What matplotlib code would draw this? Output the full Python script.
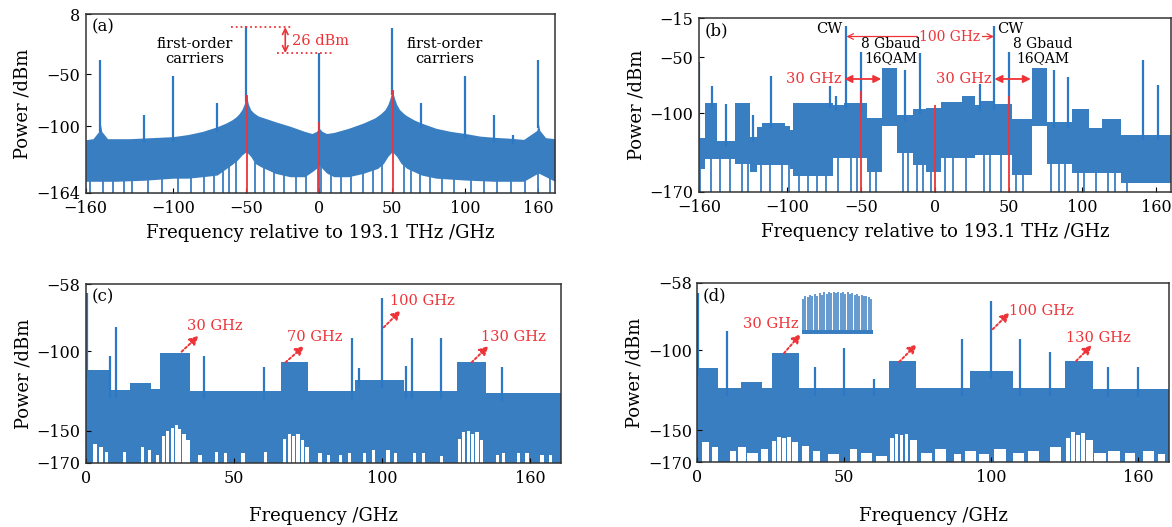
import numpy as np
import matplotlib.pyplot as plt

plt.rcParams['font.family'] = ['DejaVu Serif']

BLUE = '#3a7ec2'
SPIKE = '#2b79c5'
RED = '#ee3338'

# ---------------- panel (a): optical spectrum, carriers ----------------
a_up_f = [-160, -155, -151, -150, -149, -145, -130, -115, -100, -90, -80, -70, -64, -60, -57, -55, -53,
          -51.5, -50, -48.5, -47, -45, -42, -40, -30, -20, -10, -5, -2, 0, 2, 5, 10, 20, 30, 38, 42,
          45, 47, 48.5, 50, 51.5, 53, 55, 58, 60, 65, 70, 80, 90, 100, 110, 120, 130, 140, 149, 150,
          151, 155, 161.4]
a_up_p = [-113, -112, -105, -97, -105, -112, -112, -111, -110, -108, -105, -100.5, -97, -94, -91, -88,
          -84, -79, -70, -79, -84, -87, -90, -91, -95.7, -100, -105, -107, -105, -102, -105, -107,
          -106, -102, -97, -92, -88, -84, -79, -73, -65, -73, -79, -84, -88, -90, -94, -97, -102,
          -105, -107, -109.5, -110.7, -111.5, -112.7, -104, -97, -104, -111, -112]
a_low_f = [-160, -140, -120, -100, -90, -80, -70, -65, -60, -56, -53, -50, -47, -44, -40, -30, -20,
           -10, -5, -2, 0, 2, 5, 10, 20, 30, 40, 44, 47, 50, 53, 56, 60, 70, 80, 100, 120, 140, 150, 161.4]
a_low_p = [-153, -153, -152, -150, -150, -148.6, -147, -142, -137, -132.5, -127.7, -124.5, -129, -135.8,
           -139, -145.4, -148.6, -148.6, -143.8, -140.6, -137.4, -140.6, -145, -148.6, -148.6, -145.4,
           -140.6, -135.8, -129, -124.5, -129, -135.8, -140.6, -147, -150, -151.8, -153, -153, -145, -153]
a_dip_f = [-157, -148, -141, -134, -128, -117, -108, -97, -88, -79, -72, -66, -62, -57, -44, -38, -31,
           -24, -16, -9, -1, 1, 8, 15, 22, 30, 37, 43, 58, 63, 69, 76, 84, 92, 104, 113, 122, 131,
           141, 150, 158]
a_sp_f = [-150.5, -120, -100.5, -70, -50.3, 0, 50, 70, 100, 120, 133, 150]
a_sp_p = [-36, -89, -52, -78, -4, -30, -5.5, -78, -52, -89, -108, -36]
a_red_f = [-49.5, 0, 50.3]
a_red_p = [-70, -95.6, -65]

# ---------------- panel (b): optical spectrum with signals ----------------
b_edges = [-160, -156, -148, -135.7, -125.4, -121, -117, -102, -98, -96, -69, -62, -46, -36, -25.5,
           -15, -6, 4, 18, 27, 31, 40, 52, 65.6, 76, 93, 104.3, 113.4, 126, 160]
b_up = [-122, -91, -125, -91, -121, -112, -108.5, -111, -115, -90.5, -93, -91, -104.6, -60, -101.5,
        -96, -95, -90, -85, -93, -89, -91.7, -105, -59.3, -108, -96.4, -112.8, -105, -119]
b_low = [-150, -141, -141, -145, -152, -146, -146, -146, -150, -156, -140, -140, -152, -111, -135,
         -146, -152, -140, -140, -137, -137, -137, -155, -111, -145, -153, -153, -153, -162]
b_dip_f = [-159, -152, -146, -139, -131, -127, -118, -112, -104, -99, -92, -86, -80, -74, -66, -57,
           -53, -44, -40, -22, -18, -12, -8, -3, 7, 12, 21, 33, 37, 45, 55, 60, 79, 84, 88, 97, 101,
           109, 117, 122, 130]
b_sp_f = [-159.7, -151.5, -141.8, -123.2, -111, -71, -67.3, -60.2, -50.1, -20.3, -10.3, 30.4, 40.2,
          50.5, 80.9, 90.2, 141.1, 151.1]
b_sp_p = [-54, -75.4, -91.8, -101.6, -67, -76.1, -85, -21.8, -45.1, -61.4, -46.6, -73.6, -21.8,
          -45.1, -61.3, -67.3, -52.6, -75]
b_red_f = [-50, 0, 50]
b_red_p = [-80.2, -93, -84.6]

# ---------------- panel (c): electrical spectrum ----------------
c_edges = [0, 8, 15, 22, 25, 35, 66, 75, 91, 107.5, 125.5, 135, 160.4]
c_up = [-112, -124.5, -120, -124, -101, -125, -107, -125, -118, -125, -107, -126]
c_gap_l = [2.5, 4.5, 6.3, 12.5, 18.5, 21.0, 23.5, 25.6, 27.1, 28.6, 29.9, 31.1, 32.6, 33.9, 38, 43.5,
           46.5, 52.5, 60, 66.6, 68.1, 69.6, 71.1, 72.6, 74.1, 78.5, 81.5, 85.5, 88.5, 93.5, 96.5, 101.5,
           104, 110.5, 113.5, 119.5, 125.6, 127.1, 128.6, 130.1, 131.6, 133.1, 138.5, 140.5, 145.5,
           148.5, 153.5, 156.5]
c_gap_top = [-158, -160, -163, -163, -160, -162, -165, -153, -150, -148, -146.5, -149, -152, -156,
             -165, -163, -164, -164, -163, -155, -152, -153, -152, -156, -160, -164, -165, -165, -164,
             -164, -162, -162, -164, -164, -164, -166, -155, -151, -150, -152, -151, -156, -165, -164,
             -164, -164, -165, -165]
c_sp_f = [0.3, 8, 10, 40, 60, 90, 92.2, 100, 108, 110, 120, 140.4]
c_sp_p = [-63.5, -103, -85, -103, -110, -91.8, -110.8, -66.7, -109, -91.8, -91.8, -110]

# ---------------- panel (d): electrical spectrum, optimised ----------------
d_edges = [0, 7, 15, 22, 25.3, 34.6, 65.3, 74.5, 93, 107.6, 125.3, 134.7, 160.6]
d_up = [-111.5, -123.4, -120, -123.4, -102, -123.4, -107, -123.4, -113, -123.4, -106.8, -124]
d_gap_l = [1.5, 5, 11, 14, 17, 21.7, 25.5, 27.2, 28.9, 30.6, 32.3, 35.6, 39.4, 44.4, 52, 55.8, 60.9,
           65.6, 67.3, 69.0, 70.7, 72.4, 76, 81, 87.4, 91, 96, 101, 107.6, 112.6, 120, 125.6, 127.3,
           129.0, 130.7, 132.4, 135, 140, 145.5, 151.8, 156.8]
d_gap_r = [4, 7, 13, 16.7, 20.5, 24, 26.7, 28.4, 30.1, 31.8, 34.3, 38, 41.9, 48.2, 54.5, 59.6, 64.6,
           66.8, 68.5, 70.2, 71.9, 74.7, 79.8, 84.6, 89.9, 95, 99.4, 105, 111.4, 116.4, 124, 126.8,
           128.5, 130.2, 131.9, 134.7, 139, 144, 149, 155.6, 159.3]
d_gap_top = [-157.6, -160.7, -162.8, -160.7, -164, -161.7, -157, -154.5, -155, -154, -157.6, -159.6,
             -162.8, -164.8, -161.7, -164, -166, -155, -152.4, -153, -152.5, -156, -164, -161.7, -165,
             -162.8, -165, -161.7, -164, -162.8, -160.7, -155, -151.4, -153, -151.5, -156, -164,
             -162.8, -164, -162.8, -165]
d_sp_f = [0.3, 10, 40, 50, 60, 90, 100, 110, 120, 140, 150]
d_sp_p = [-64.2, -88, -110.5, -99, -117.8, -93.3, -69.4, -93.3, -101, -110.5, -110.5]
# inset comb (zoom of the 30 GHz signal)
d_comb_f = [36.0, 36.8, 37.6, 38.4, 39.2, 40.0, 40.8, 41.6, 42.4, 43.2, 44.0, 44.8, 45.6, 46.4, 47.2,
            48.0, 48.8, 49.6, 50.4, 51.2, 52.0, 52.8, 53.6, 54.4, 55.2, 56.0, 56.8, 57.6, 58.4, 59.2]
d_comb_p = [-68, -66, -67, -65.5, -66.5, -65, -66, -64.5, -65.5, -64, -65, -64, -64.5, -63.8, -64.5,
            -63.8, -64.5, -64, -65, -64, -65, -64.5, -65.5, -65, -66, -65.5, -66.5, -66, -67, -68]
d_comb_base = -90.2

TXT = 10.5


def seg_level(edges, levels, f):
    i = np.clip(np.searchsorted(edges, f, side='right') - 1, 0, len(levels) - 1)
    return np.asarray(levels)[i]


def step_xy(edges, levels):
    x = np.repeat(edges, 2)[1:-1]
    y = np.repeat(levels, 2)
    return x, y


def style(ax, xlim, ylim, xt, xtl, yt, xlab, xpad):
    ax.set_xlim(xlim)
    ax.set_ylim(ylim)
    ax.set_xticks(xt, xtl)
    ax.set_yticks(yt)
    ax.tick_params(direction='in', length=3.5, width=0.8, labelsize=11.5)
    ax.tick_params(axis='x', pad=5)
    ax.tick_params(axis='y', pad=4)
    for s in ax.spines.values():
        s.set_color('#333333')
        s.set_linewidth(1.1)
    ax.set_ylabel('Power /dBm', fontsize=13, labelpad=3)
    ax.set_xlabel(xlab, fontsize=13, labelpad=xpad)


fig = plt.figure(figsize=(11.72, 5.27), dpi=100)
ax_a = fig.add_axes([0.0731, 0.6343, 0.4004, 0.3391])
ax_b = fig.add_axes([0.5964, 0.6362, 0.4027, 0.3296])
ax_c = fig.add_axes([0.0734, 0.1220, 0.4050, 0.3385])
ax_d = fig.add_axes([0.5950, 0.1228, 0.4024, 0.3408])

wide_ticks = [-160, -100, -50, 0, 50, 100, 150]
wide_labels = ['\u2212160', '\u2212100', '\u221250', '0', '50', '100', '160']
ele_ticks = [0, 50, 100, 150]
ele_labels = ['0', '50', '100', '160']

# ---- (a)
ax = ax_a
ax.fill_between(a_up_f, -164, a_up_p, color=BLUE, lw=0)
ax.fill_between(a_low_f, -164, a_low_p, color='white', lw=0)
ax.vlines(a_dip_f, -164, np.interp(a_dip_f, a_low_f, a_low_p) + 1, color=BLUE, lw=1.3)
ax.vlines(a_sp_f, np.interp(a_sp_f, a_up_f, a_up_p) - 5, a_sp_p, color=SPIKE, lw=1.6)
ax.vlines(a_red_f, -164, a_red_p, color=RED, lw=1.3)
ax.plot([-60.8, -19], [-4.2, -4.2], ls=':', color=RED, lw=1.3)
ax.plot([-29, 10], [-30, -30], ls=':', color=RED, lw=1.3)
ax.annotate('', xy=(-23.3, -4.6), xytext=(-23.3, -29.6),
            arrowprops=dict(arrowstyle='<->', color=RED, lw=1.2, shrinkA=0, shrinkB=0))
ax.text(-18.5, -17.5, '26 dBm', color=RED, fontsize=TXT, ha='left', va='center')
ax.text(-85, -28, 'first-order\ncarriers', fontsize=TXT, ha='center', va='center', linespacing=1.05)
ax.text(86, -28, 'first-order\ncarriers', fontsize=TXT, ha='center', va='center', linespacing=1.05)
ax.text(0.012, 0.975, '(a)', transform=ax.transAxes, fontsize=12, ha='left', va='top')
style(ax, (-160, 161.4), (-164, 8), wide_ticks, wide_labels, [8, -50, -100, -164],
      'Frequency relative to 193.1 THz /GHz', 5)

# ---- (b)
ax = ax_b
xs, ys = step_xy(b_edges, b_up)
ax.fill_between(xs, -170, ys, color=BLUE, lw=0)
xs, ys = step_xy(b_edges, b_low)
ax.fill_between(xs, -170, ys, color='white', lw=0)
ax.vlines(b_dip_f, -170, seg_level(b_edges, b_low, b_dip_f) + 1, color=BLUE, lw=1.3)
ax.vlines(b_sp_f, seg_level(b_edges, b_up, b_sp_f) - 5, b_sp_p, color=SPIKE, lw=1.6)
ax.vlines(b_red_f, -170, b_red_p, color=RED, lw=1.3)
ax.annotate('', xy=(-60, -31.5), xytext=(40, -31.5),
            arrowprops=dict(arrowstyle='<->', color=RED, lw=0.9, shrinkA=0, shrinkB=0))
ax.text(10, -31.5, '100 GHz', color=RED, fontsize=10, ha='center', va='center',
        bbox=dict(facecolor='white', edgecolor='none', pad=1))
for x0, x1, tx in [(-61.4, -36.4, -63.5), (40.3, 65, 38.3)]:
    ax.annotate('', xy=(x0, -69.4), xytext=(x1, -69.4),
                arrowprops=dict(arrowstyle='<|-|>', color=RED, lw=1.3, mutation_scale=11,
                                shrinkA=0, shrinkB=0))
    ax.text(tx, -69.4, '30 GHz', color=RED, fontsize=TXT, ha='right', va='center')
ax.text(-62.5, -24.5, 'CW', fontsize=TXT, ha='right', va='center')
ax.text(42.3, -24.5, 'CW', fontsize=TXT, ha='left', va='center')
ax.text(-30, -44.3, '8 Gbaud\n16QAM', fontsize=10, ha='center', va='center', linespacing=1.05)
ax.text(73, -44.3, '8 Gbaud\n16QAM', fontsize=10, ha='center', va='center', linespacing=1.05)
ax.text(0.012, 0.975, '(b)', transform=ax.transAxes, fontsize=12, ha='left', va='top')
style(ax, (-160, 160), (-170, -15), wide_ticks, wide_labels, [-15, -50, -100, -170],
      'Frequency relative to 193.1 THz /GHz', 5)


def electrical(ax, edges, up, gap_l, gap_r, gap_top, sp_f, sp_p):
    xs, ys = step_xy(edges, up)
    ax.fill_between(xs, -170, ys, color=BLUE, lw=0)
    gl = np.asarray(gap_l)
    gr = np.asarray(gap_r)
    ax.bar(gl, np.asarray(gap_top) + 170, width=gr - gl, bottom=-170, align='edge',
           color='white', lw=0)
    ax.vlines(sp_f, seg_level(edges, up, sp_f) - 5, sp_p, color=SPIKE, lw=1.6)


# ---- (c)
ax = ax_c
c_gap_r = [g + 1.1 for g in c_gap_l]
electrical(ax, c_edges, c_up, c_gap_l, c_gap_r, c_gap_top, c_sp_f, c_sp_p)
for (x0, y0, x1, y1, lab, tx, ty) in [(32.3, -100.3, 38, -90.3, '30 GHz', 43.6, -84),
                                      (67.4, -107, 73.7, -96.7, '70 GHz', 77.4, -91),
                                      (100.6, -85, 106.3, -74.5, '100 GHz', 113.8, -68.6),
                                      (130.3, -107, 136, -96.7, '130 GHz', 144.5, -91)]:
    ax.annotate('', xy=(x1, y1), xytext=(x0, y0),
                arrowprops=dict(arrowstyle='-|>', ls=(0, (1.2, 1.2)), color=RED, lw=1.4,
                                mutation_scale=13, shrinkA=0, shrinkB=0))
    ax.text(tx, ty, lab, color=RED, fontsize=TXT, ha='center', va='center')
ax.text(0.012, 0.975, '(c)', transform=ax.transAxes, fontsize=12, ha='left', va='top')
style(ax, (0, 160.4), (-170, -58), ele_ticks, ele_labels, [-58, -100, -150, -170],
      'Frequency /GHz', 15)

# ---- (d)
ax = ax_d
electrical(ax, d_edges, d_up, d_gap_l, d_gap_r, d_gap_top, d_sp_f, d_sp_p)
ax.fill_between([35.5, 59.8], d_comb_base, d_comb_base + 3, color=BLUE, lw=0)
ax.vlines(d_comb_f, d_comb_base, d_comb_p, color=BLUE, lw=1.1)
for (x0, y0, x1, y1) in [(29.5, -102, 35.2, -90), (68.7, -107.4, 74.7, -96.4),
                         (100.6, -87, 106.3, -76.7), (129, -106.8, 134.3, -97)]:
    ax.annotate('', xy=(x1, y1), xytext=(x0, y0),
                arrowprops=dict(arrowstyle='-|>', ls=(0, (1.2, 1.2)), color=RED, lw=1.4,
                                mutation_scale=13, shrinkA=0, shrinkB=0))
ax.text(25, -84, '30 GHz', color=RED, fontsize=TXT, ha='center', va='center')
ax.text(117, -75.6, '100 GHz', color=RED, fontsize=TXT, ha='center', va='center')
ax.text(136.6, -92.2, '130 GHz', color=RED, fontsize=TXT, ha='center', va='center')
ax.text(0.012, 0.975, '(d)', transform=ax.transAxes, fontsize=12, ha='left', va='top')
style(ax, (0, 160.6), (-170, -58), ele_ticks, ele_labels, [-58, -100, -150, -170],
      'Frequency /GHz', 15)

fig.savefig('out.png', dpi=100)
